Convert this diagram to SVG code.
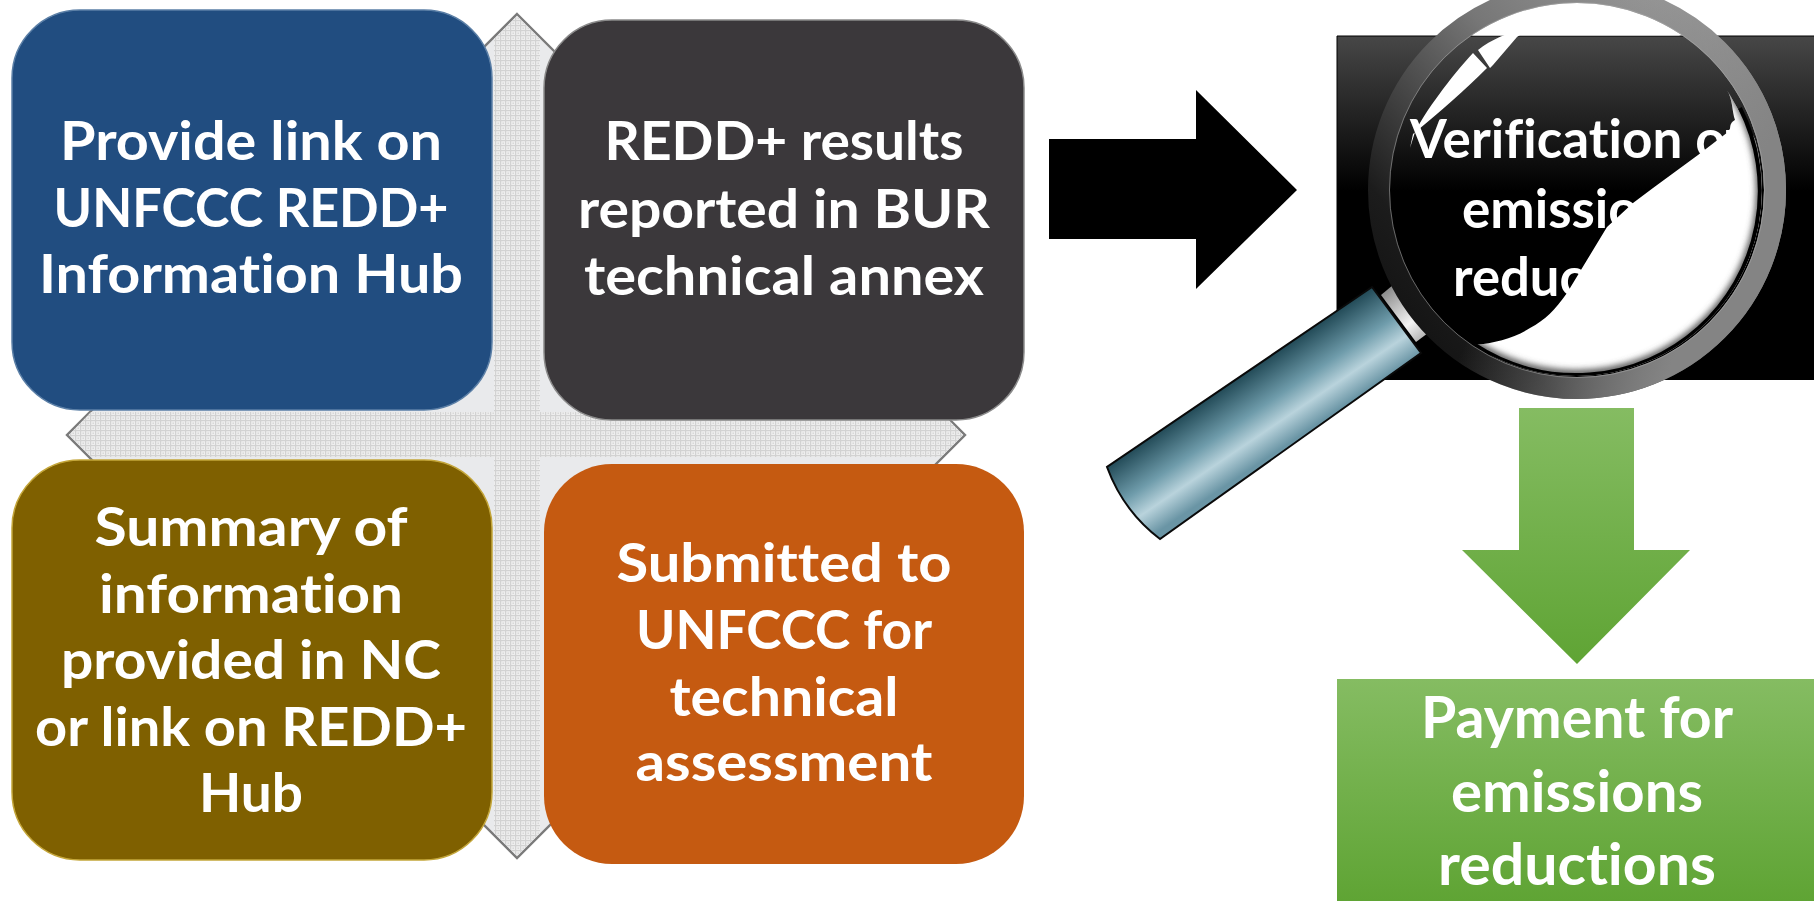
<svg xmlns="http://www.w3.org/2000/svg" width="1814" height="901" viewBox="0 0 1814 901">
<style>
text{font-family:Lato,"Liberation Sans",sans-serif;font-weight:700;fill:#fff;text-anchor:middle;font-size:53px;font-variant-ligatures:none}
.g{font-size:57px}
.n{stroke-width:1.5}
</style>
<defs>
<pattern id="mesh" width="5" height="5" patternUnits="userSpaceOnUse"><rect width="5" height="5" fill="#eeeeee"/><rect width="5" height="1.2" fill="#d2d2d2"/><rect width="1.2" height="5" fill="#d2d2d2"/><rect x="2.6" y="2.6" width="1.2" height="1.2" fill="#cccccc"/></pattern>
<linearGradient id="blk" x1="0" y1="0" x2="0" y2="1"><stop offset="0" stop-color="#474747"/><stop offset=".45" stop-color="#000"/></linearGradient>
<linearGradient id="grn" x1="0" y1="0" x2="0" y2="1"><stop offset="0" stop-color="#85bc62"/><stop offset="1" stop-color="#5fa434"/></linearGradient>
<linearGradient id="ring" gradientUnits="userSpaceOnUse" x1="1740" y1="60" x2="1420" y2="340"><stop offset="0" stop-color="#9c9c9c"/><stop offset=".4" stop-color="#777"/><stop offset=".85" stop-color="#1c1c1c"/><stop offset="1" stop-color="#141414"/></linearGradient>
<linearGradient id="ring2" gradientUnits="userSpaceOnUse" x1="1480" y1="310" x2="1660" y2="390"><stop offset="0" stop-color="#848484" stop-opacity="0"/><stop offset="1" stop-color="#848484"/></linearGradient>
<linearGradient id="hdl" gradientUnits="userSpaceOnUse" x1="1240" y1="377" x2="1286" y2="445"><stop offset="0" stop-color="#234b58"/><stop offset=".45" stop-color="#6f9cab"/><stop offset=".72" stop-color="#b9d3dc"/><stop offset="1" stop-color="#6a95a5"/></linearGradient>
<linearGradient id="col" gradientUnits="userSpaceOnUse" x1="1386" y1="290" x2="1422" y2="336"><stop offset="0" stop-color="#8a8a8a"/><stop offset=".7" stop-color="#f4f4f4"/><stop offset="1" stop-color="#bbb"/></linearGradient>
<clipPath id="lens"><circle cx="1576" cy="190" r="186"/></clipPath>
<clipPath id="blob"><path d="M1727,90 C1733,100 1732,112 1735,120 L1728,132 L1698,155 L1653,188 L1633,203 L1607,227 L1587,260 L1567,293 C1555,310 1545,320 1530,328 C1515,338 1495,343 1475,345 L1540,385 L1700,385 L1790,200 Z"/></clipPath>
<filter id="soft" x="-10%" y="-10%" width="120%" height="120%"><feGaussianBlur stdDeviation="3"/></filter>
</defs>
<rect width="1814" height="901" fill="#fff"/>

<g id="cross">
<polygon points="517,14 610,107 610,342 872,342 965,435 872,528 610,528 610,765 517,858 424,765 424,528 160,528 67,435 160,342 424,342 424,107" fill="#e9eaec" stroke="#7a7a7a" stroke-width="2.4"/>
<polygon points="517,16 540,39 540,412 941,412 963,435 941,457 540,457 540,833 517,856 494,833 494,457 91,457 69,435 91,412 494,412 494,39" fill="url(#mesh)"/>
</g>

<g id="node-blue"><rect class="n" x="12" y="10" width="480" height="400" rx="68" fill="#214d80" stroke="#5b7fa6"/>
<text x="251" y="160" textLength="382" lengthAdjust="spacingAndGlyphs">Provide link on</text>
<text x="251" y="227" textLength="395" lengthAdjust="spacingAndGlyphs">UNFCCC REDD+</text>
<text x="251" y="293" textLength="424" lengthAdjust="spacingAndGlyphs">Information Hub</text></g>

<g id="node-dark"><rect class="n" x="544" y="20" width="480" height="400" rx="68" fill="#3b383b" stroke="#8a8a8a"/>
<text x="784" y="160" textLength="359" lengthAdjust="spacingAndGlyphs">REDD+ results</text>
<text x="784" y="228" textLength="412" lengthAdjust="spacingAndGlyphs">reported in BUR</text>
<text x="784" y="295" textLength="400" lengthAdjust="spacingAndGlyphs">technical annex</text></g>

<g id="node-olive"><rect class="n" x="12" y="460" width="480" height="400" rx="68" fill="#7f6000" stroke="#c4a63a"/>
<text x="251" y="546" textLength="313" lengthAdjust="spacingAndGlyphs">Summary of</text>
<text x="251" y="613" textLength="304" lengthAdjust="spacingAndGlyphs">information</text>
<text x="251" y="679" textLength="380" lengthAdjust="spacingAndGlyphs">provided in NC</text>
<text x="251" y="746" textLength="432" lengthAdjust="spacingAndGlyphs">or link on REDD+</text>
<text x="251" y="812" textLength="104" lengthAdjust="spacingAndGlyphs">Hub</text></g>

<g id="node-orange"><rect x="544" y="464" width="480" height="400" rx="68" fill="#c55a11"/>
<text x="784" y="582" textLength="335" lengthAdjust="spacingAndGlyphs">Submitted to</text>
<text x="784" y="649" textLength="296" lengthAdjust="spacingAndGlyphs">UNFCCC for</text>
<text x="784" y="716" textLength="229" lengthAdjust="spacingAndGlyphs">technical</text>
<text x="784" y="781" textLength="297" lengthAdjust="spacingAndGlyphs">assessment</text></g>

<g id="connectors">
<polygon points="1049,139 1196,139 1196,90 1297,190 1196,289 1196,239 1049,239" fill="#000"/>
<polygon points="1519,408 1634,408 1634,550 1690,550 1577,664 1462,550 1519,550" fill="url(#grn)"/>
</g>

<g id="node-verify">
<rect x="1337" y="36" width="477" height="344" fill="url(#blk)"/>
<path d="M1337,380 V36 H1814" fill="none" stroke="#000" stroke-width="1"/>
<text x="1577" y="158" textLength="334" lengthAdjust="spacingAndGlyphs">Verification of</text>
<text x="1577" y="228" textLength="230" lengthAdjust="spacingAndGlyphs">emissions</text>
<text x="1577" y="296" textLength="248" lengthAdjust="spacingAndGlyphs">reductions</text>
</g>

<g id="node-payment"><rect x="1337" y="679" width="477" height="222" fill="url(#grn)"/>
<text class="g" x="1577" y="738" textLength="312" lengthAdjust="spacingAndGlyphs">Payment for</text>
<text class="g" x="1577" y="812" textLength="252" lengthAdjust="spacingAndGlyphs">emissions</text>
<text class="g" x="1577" y="885" textLength="278" lengthAdjust="spacingAndGlyphs">reductions</text></g>

<g id="magnifier">
<polygon points="1381,295 1393,285 1432,330 1416,342" fill="url(#col)"/>
<path d="M1372,287 L1421,353 L1160,539 C1135,520 1118,497 1107,467 Z" fill="url(#hdl)" stroke="#0a0a0a" stroke-width="2"/>
<g clip-path="url(#lens)">
<rect x="1380" y="0" width="400" height="35.5" fill="#fff"/>
<path d="M1727,90 C1733,100 1732,112 1735,120 L1728,132 L1698,155 L1653,188 L1633,203 L1607,227 L1587,260 L1567,293 C1555,310 1545,320 1530,328 C1515,338 1495,343 1475,345 L1540,385 L1700,385 L1790,200 Z" fill="#fff"/>
<g clip-path="url(#blob)"><circle cx="1576" cy="190" r="184" fill="none" stroke="#555" stroke-width="8" filter="url(#soft)"/></g>
<path d="M1410,148 L1415,132 C1425,112 1450,78 1473,53 L1487,68 C1465,90 1440,112 1413,134 Z" fill="#fff"/>
<path d="M1478,50 C1495,36 1520,29 1543,22 C1533,28 1525,31 1517,37 L1493,65 L1490,68 Z" fill="#fff"/>
<path d="M1740,108 A184,184 0 0 1 1475,345" fill="none" stroke="#000" stroke-width="4"/>
</g>
<circle cx="1577" cy="190" r="198" fill="none" stroke="url(#ring)" stroke-width="22"/>
<circle cx="1577" cy="190" r="198" fill="none" stroke="url(#ring2)" stroke-width="22"/>
<circle cx="1577" cy="190" r="187.5" fill="none" stroke="#aaa" stroke-opacity=".55" stroke-width="1"/>
</g>
</svg>
